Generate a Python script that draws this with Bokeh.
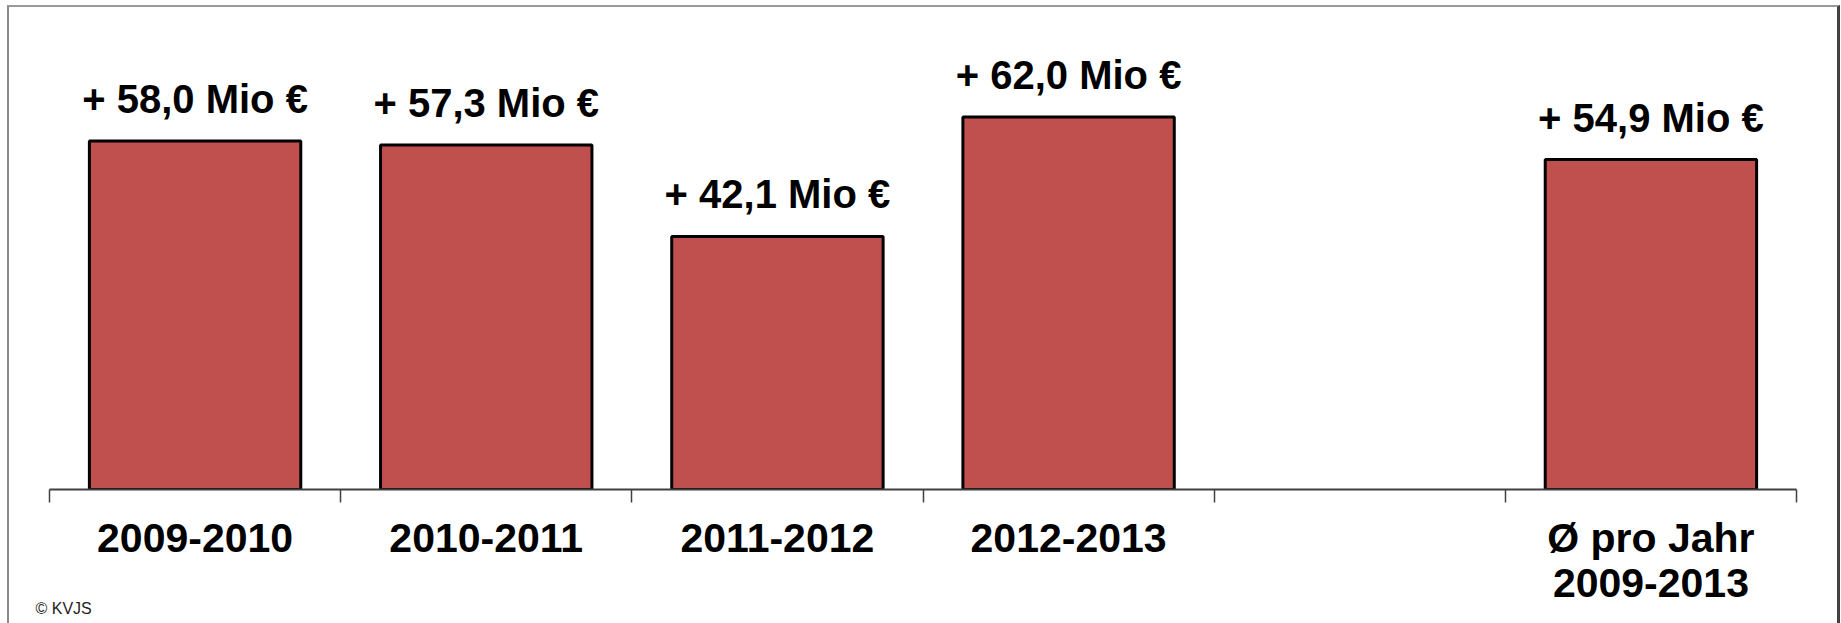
from bokeh.plotting import figure
from bokeh.models import (Range1d, LinearAxis, FixedTicker,
                          ColumnDataSource, Title, InlineStyleSheet)
from bokeh.core.properties import value
from bokeh.embed import file_html
from bokeh.resources import INLINE

# ---- data ----
categories = ["2009-2010", "2010-2011", "2011-2012", "2012-2013", "", "Ø pro Jahr\n2009-2013"]
bar_categories = ["2009-2010", "2010-2011", "2011-2012", "2012-2013", "Ø pro Jahr\n2009-2013"]
values = [58.0, 57.3, 42.1, 62.0, 54.9]
labels = ["+ " + f"{v:.1f}".replace(".", ",") + " Mio €" for v in values]
source_note = "© KVJS"

# slot positions derived from category order
boundaries = list(range(len(categories) + 1))
bar_x = [categories.index(c) + 0.5 for c in bar_categories]
line1 = {x: c.split("\n")[0] for x, c in zip(bar_x, bar_categories)}
line2 = {x: c.split("\n")[1] for x, c in zip(bar_x, bar_categories) if "\n" in c}

FONT = "Liberation Sans"

p = figure(width=1841, height=623,
           x_range=Range1d(0, len(categories)),
           y_range=Range1d(0, 79.7),
           x_axis_location=None, y_axis_location=None,
           output_backend="svg", toolbar_location=None,
           min_border_left=49, min_border_right=45,
           min_border_top=10, min_border_bottom=134)
p.xgrid.visible = False
p.ygrid.visible = False
p.outline_line_color = None
p.background_fill_color = "white"
p.border_fill_color = "white"

tick_axis = LinearAxis(ticker=FixedTicker(ticks=boundaries),
                       major_tick_out=13, major_tick_in=0,
                       minor_tick_line_color=None,
                       major_label_text_font_size="0px",
                       major_label_text_color=None,
                       major_label_standoff=0,
                       axis_line_color="#404040", axis_line_width=2,
                       major_tick_line_color="#404040", major_tick_line_width=1.5)
p.add_layout(tick_axis, "below")

label_style = dict(axis_line_color=None, major_tick_line_color=None,
                   minor_tick_line_color=None,
                   major_label_text_font=FONT,
                   major_label_text_font_style="bold",
                   major_label_text_font_size="41px",
                   major_label_text_color="black")

label_axis = LinearAxis(ticker=FixedTicker(ticks=list(line1.keys())),
                        major_label_overrides=line1,
                        major_label_standoff=6, **label_style)
p.add_layout(label_axis, "below")

label_axis2 = LinearAxis(ticker=FixedTicker(ticks=list(line2.keys())),
                         major_label_overrides=line2,
                         major_label_standoff=-1, **label_style)
p.add_layout(label_axis2, "below")

p.add_layout(Title(text=source_note, align="left", offset=-14, standoff=-3,
                   text_font=FONT, text_font_size="16px", text_font_style="normal",
                   text_color="#222222"), "below")

src = ColumnDataSource(dict(x=bar_x, top=values, label=labels))
p.vbar(x="x", top="top", width=0.726, source=src,
       fill_color="#C0504D", line_color="black", line_width=3)
p.text(x="x", y="top", text="label", source=src,
       text_align="center", text_baseline="alphabetic", y_offset=-42,
       text_font=value(FONT), text_font_style="bold", text_font_size="40px",
       text_color="black")

p.stylesheets = [InlineStyleSheet(css="""
:host { position: relative; }
:host::after {
  content: ""; position: absolute; left: 7px; top: 5px;
  width: 1833px; height: 640px; box-sizing: border-box;
  border-top: 2px solid #9a9a9a; border-left: 2px solid #8a8a8a;
  border-right: 3px solid #404040;
  pointer-events: none;
}
""")]

open("out.html", "w").write(file_html(p, INLINE))
